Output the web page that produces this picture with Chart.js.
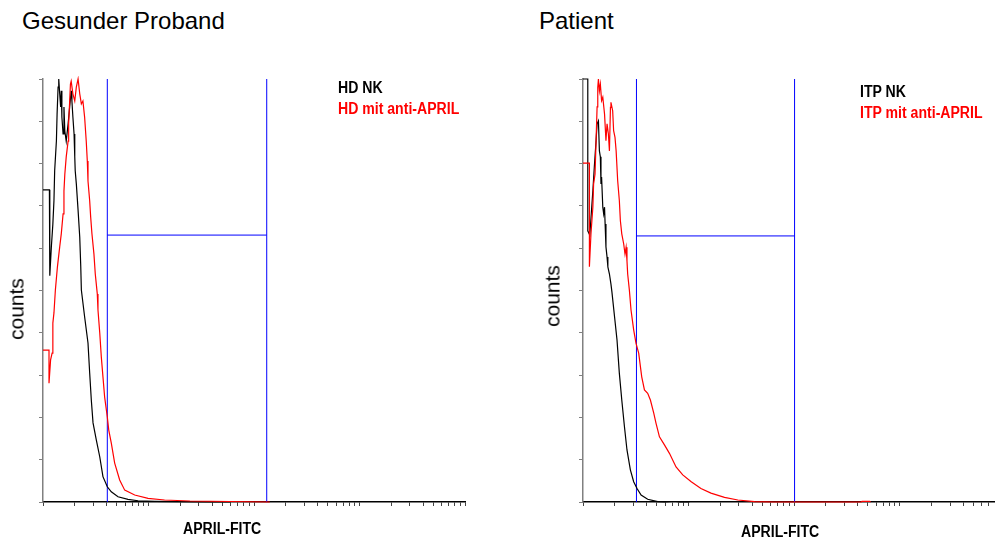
<!DOCTYPE html>
<html>
<head>
<meta charset="utf-8">
<script src="https://cdn.jsdelivr.net/npm/chart.js@4.4.1/dist/chart.umd.min.js"></script>
<style>
  body { margin: 0; background: #fff; width: 995px; height: 542px; position: relative; overflow: hidden;
         font-family: "Liberation Sans", Arial, sans-serif; }
  canvas { position: absolute; top: 0; }
  .title { position: absolute; font-size: 24px; line-height: 24px; white-space: nowrap; }
  .ylab { position: absolute; font-size: 21px; line-height: 21px; white-space: nowrap;
          transform: translate(-50%, -50%) rotate(-90deg); }
  /* narrow bold labels: Liberation Sans squeezed horizontally */
  .xlab, .leg { position: absolute; white-space: nowrap; transform-origin: 0 0; transform: scaleX(0.88);
                font: bold 16px/16px "Liberation Sans", Arial, sans-serif; }
  .red { color: #ff0000; }
</style>
</head>
<body>
<div class="title" style="left:22px; top:9px;">Gesunder Proband</div>
<div class="title" style="left:539px; top:9px;">Patient</div>

<canvas id="hdChart" width="500" height="542" style="left:0;"></canvas>
<canvas id="itpChart" width="455" height="542" style="left:540px;"></canvas>

<div class="ylab" style="left:16px; top:309px;">counts</div>
<div class="ylab" style="left:552px; top:296px;">counts</div>
<div class="xlab" style="left:183px; top:521px;">APRIL-FITC</div>
<div class="xlab" style="left:741px; top:524px;">APRIL-FITC</div>

<div class="leg" style="left:338px; top:80px;">HD NK</div>
<div class="leg red" style="left:338px; top:101px;">HD mit anti-APRIL</div>
<div class="leg" style="left:860px; top:84px;">ITP NK</div>
<div class="leg red" style="left:860px; top:105px;">ITP mit anti-APRIL</div>

<script>
// fluorescence intensity (log axis) and counts (% of max channel)
const hdNkX = [1, 1.15, 1.16, 1.16, 1.2, 1.24, 1.27, 1.29, 1.34, 1.36, 1.39, 1.41, 1.44, 1.47, 1.49, 1.51, 1.55, 1.58, 1.61, 1.66,
  1.73, 1.79, 1.85, 1.88, 1.92, 1.97, 2.0, 2.02, 2.07, 2.15, 2.23, 2.28, 2.31, 2.48, 2.67, 2.77, 2.87, 2.98, 3.2, 3.45,
  3.7, 4.07, 4.44, 5.14, 6.39, 7.95, 11.5, 19.9, 38, 60];
const hdNkY = [73.8, 73.8, 64.1, 53.5, 60.3, 65.7, 71.2, 78.3, 85.4, 91.7, 98.1, 100, 96.5, 93.4, 97.2, 91, 87, 93.4, 87.7, 85.3,
  89.4, 93.4, 97.2, 94.8, 91, 87, 81.6, 78.3, 75.2, 69, 62.6, 55.6, 50.1, 43.8, 37.6, 30.5, 24.1, 18.7, 14.7, 10.7,
  6.0, 3.6, 2.4, 1.25, 0.64, 0.3, 0.17, 0.07, 0, 0];

const hdAprilX = [1, 1.14, 1.14, 1.18, 1.22, 1.24, 1.27, 1.31, 1.37, 1.44, 1.49, 1.55, 1.58, 1.61, 1.66, 1.73, 1.75, 1.79, 1.82, 1.85,
  1.92, 2.0, 2.07, 2.15, 2.23, 2.31, 2.39, 2.48, 2.57, 2.63, 2.67, 2.77, 2.83, 2.91, 3.04, 3.13, 3.27, 3.32, 3.45, 3.57,
  3.7, 3.84, 4.07, 4.2, 4.44, 4.78, 5.33, 5.95, 7.4, 9.9, 14.2, 24.7, 59, 141];
const hdAprilY = [35.9, 35.9, 28.1, 33.6, 35.2, 42.3, 44.7, 50.1, 55.6, 60.3, 63.4, 68.1, 73.5, 77.5, 81.6, 85.3, 89.4, 94.8, 98.8, 99.5,
  96.5, 94.8, 98.1, 100, 96.5, 94.1, 94.8, 91, 85.3, 80.6, 75.9, 71.2, 67.4, 63.4, 58.6, 53.9, 49.2, 45.4, 40, 34.3,
  29.6, 24.8, 20.1, 17, 13.9, 9.2, 5.2, 2.8, 1.65, 0.87, 0.47, 0.24, 0.12, 0];

const itpNkX = [1, 1.11, 1.11, 1.16, 1.24, 1.28, 1.33, 1.36, 1.4, 1.43, 1.46, 1.48, 1.5, 1.54, 1.57, 1.6, 1.62, 1.65, 1.69, 1.72,
  1.78, 1.84, 1.88, 1.99, 2.1, 2.21, 2.33, 2.47, 2.61, 2.81, 3.02, 3.25, 3.55, 4.1, 5.1, 5.95, 7.0, 7.6, 8.25, 10.2];
const itpNkY = [100, 100, 64.1, 63.1, 73.6, 79.2, 85.4, 89.4, 90.1, 83, 81.6, 75.2, 76.8, 69.7, 68.1, 69.7, 65.7, 60.3, 57.9, 55.6,
  53.9, 51.5, 49.6, 43.8, 38.3, 30.4, 24.1, 17.8, 12.3, 7.6, 4.8, 3.2, 1.65, 0.64, 0.07, 0, 0.12, 0.12, 0, 0];

const itpAprilX = [1, 1.15, 1.15, 1.19, 1.24, 1.26, 1.3, 1.33, 1.36, 1.38, 1.4, 1.43, 1.46, 1.5, 1.54, 1.6, 1.65, 1.69, 1.74, 1.78,
  1.82, 1.84, 1.91, 1.95, 2.01, 2.06, 2.13, 2.21, 2.26, 2.33, 2.43, 2.5, 2.56, 2.61, 2.65, 2.75, 2.85, 3.02, 3.18, 3.37,
  3.6, 3.82, 4.1, 4.35, 4.68, 4.92, 5.3, 5.91, 6.59, 7.61, 8.81, 10.6, 13.1, 16.3, 21.9, 29.3, 42.2, 65, 93, 100,
  430, 440, 520, 530];
const itpAprilY = [80.1, 80.1, 55.6, 63.4, 69.7, 75.2, 77.5, 85.4, 93.4, 98, 100, 97.2, 98.8, 94.9, 95.7, 91.7, 85.4, 89.4, 87, 83,
  93.3, 94.5, 92.5, 87.8, 86.2, 83, 76, 71.2, 66.5, 63.4, 61, 58.6, 60.2, 57, 53.9, 50.1, 45.4, 40.7, 37.5, 35.2,
  29.6, 26.5, 25.7, 24.1, 21, 18.6, 15.4, 13.5, 11.5, 8.3, 6.4, 4.8, 3.2, 2.1, 1.1, 0.47, 0.07, 0, 0, 0,
  0, 0.15, 0.15, 0];

// marker region: [lower, upper] intensity and height of the bar
const hdGate = [4.07, 132];
const hdGateLevel = 63.1;
const itpGate = [3.21, 101];
const itpGateLevel = 62.9;

const decades = [1, 10, 100, 1000];
const countTicks = [0, 10, 20, 30, 40, 50, 60, 70, 80, 90, 100];

function logTicks(max) {
  const ticks = [];
  decades.forEach(d => {
    for (let m = 1; m < 10; m++) {
      if (d * m <= max) ticks.push(d * m);
    }
  });
  if (10000 <= max) ticks.push(10000);
  return ticks;
}

function toPoints(xs, ys) {
  return xs.map((x, i) => ({x: x, y: ys[i]}));
}

function gateData(gate, level) {
  return [
    {x: gate[0], y: 0}, {x: gate[0], y: 100}, {x: gate[0], y: null},
    {x: gate[0], y: level}, {x: gate[1], y: level}, {x: gate[1], y: null},
    {x: gate[1], y: 0}, {x: gate[1], y: 100}
  ];
}

function makeChart(id, nk, april, gate, level, xMax) {
  const ctx = document.getElementById(id).getContext("2d");
  return new Chart(ctx, {
    type: "line",
    data: {
      datasets: [
        {data: toPoints(april[0], april[1]), borderColor: "#ff0000", borderWidth: 1.2, order: 1},
        {data: toPoints(nk[0], nk[1]), borderColor: "#000000", borderWidth: 1.2, order: 2},
        {data: gateData(gate, level), borderColor: "#0000ff", borderWidth: 1, spanGaps: false, order: 3}
      ]
    },
    options: {
      responsive: false,
      animation: false,
      events: [],
      layout: {padding: {left: 39, right: xMax < 10000 ? 0 : 35, top: 79, bottom: 36}},
      elements: {point: {radius: 0}, line: {tension: 0}},
      datasets: {line: {clip: 3}},
      plugins: {legend: {display: false}, tooltip: {enabled: false}},
      scales: {
        x: {
          type: "logarithmic",
          min: 1,
          max: xMax,
          afterBuildTicks: scale => { scale.ticks = logTicks(xMax).map(v => ({value: v})); },
          ticks: {display: false},
          grid: {drawOnChartArea: false, drawTicks: true, tickLength: 4, color: "#444", lineWidth: 1},
          border: {display: true, color: "#000", width: 1.5}
        },
        y: {
          type: "linear",
          min: 0,
          max: 100,
          afterBuildTicks: scale => { scale.ticks = countTicks.map(v => ({value: v})); },
          ticks: {display: false},
          grid: {drawOnChartArea: false, drawTicks: true, tickLength: 4, color: "#808080", lineWidth: 1},
          border: {display: true, color: "#808080", width: 1.5}
        }
      }
    }
  });
}

makeChart("hdChart", [hdNkX, hdNkY], [hdAprilX, hdAprilY], hdGate, hdGateLevel, 10000);
makeChart("itpChart", [itpNkX, itpNkY], [itpAprilX, itpAprilY], itpGate, itpGateLevel, 8000);
</script>
</body>
</html>
